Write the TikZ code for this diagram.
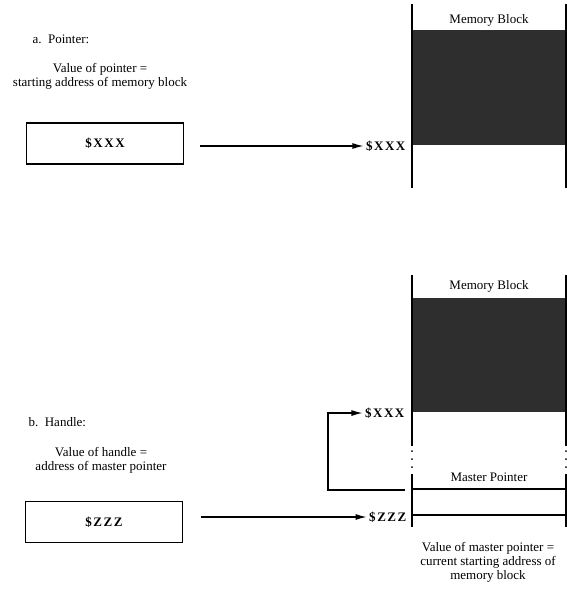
\documentclass[tikz,border=0pt]{standalone}
\usepackage{fontspec}
\setmainfont{Liberation Serif}
\newfontfamily\addrfont[LetterSpace=12]{Liberation Serif}
\usetikzlibrary{positioning, arrows.meta}
\newcommand{\ptrarrow}{-{Latex[length=11pt,width=6pt]}}
\tikzset{
    txt/.style={font=\fontsize{13}{14}\selectfont, inner sep=1pt},
    addr/.style={font=\addrfont\bfseries\fontsize{13}{14}\selectfont, inner sep=2pt},
    addrbox/.style={addr, draw, line width=1.4pt, minimum width=157pt, minimum height=41pt},
    colline/.style={line width=1.1pt},
    blockfill/.style={fill=black!82}
}

\begin{document}
\begin{tikzpicture}[x=1pt, y=-1pt, line width=1.2pt]
    \useasboundingbox (0,0) rectangle (567,592);

    % a. pointer
    \node[txt, anchor=west] (alabel) at (31,39) {a.\ \ Pointer:};
    \node[txt, align=center] (avalue) at (100,76) {Value of pointer =\\starting address of memory block};
    \node[addrbox] (ptrbox) at (105,143.5) {\$XXX};
    \node[addr, anchor=east] (axxx) at (408,146) {\$XXX};
    \draw[\ptrarrow] ([xshift=16pt]ptrbox.east |- axxx.west) -- (axxx.west);

    \fill[blockfill] (412,30) rectangle (566,145);
    \draw[colline] (412,4) -- (412,188) (566,4) -- (566,188);
    \node[txt] (ablock) at (489,20) {Memory Block};

    % b. handle
    \node[txt, anchor=west] (blabel) at (27,422) {b.\ \ Handle:};
    \node[txt, align=center] (bvalue) at (101,460) {Value of handle =\\address of master pointer};
    \node[addrbox] (hndbox) at (104,522) {\$ZZZ};
    \node[addr, anchor=east] (bzzz) at (409,517) {\$ZZZ};
    \draw[\ptrarrow] ([xshift=18pt]hndbox.east |- bzzz.west) -- (bzzz.west);

    \fill[blockfill] (412,298) rectangle (566,412);
    \draw[colline] (412,275) -- (412,446) (412,474) -- (412,527)
                   (566,275) -- (566,446) (566,474) -- (566,527);
    \foreach \y in {451,459,467}
        \fill (412,\y) circle (1) (566,\y) circle (1);
    \node[txt] (bblock) at (489,286) {Memory Block};
    \node[txt] (mpointer) at (489,477) {Master Pointer};
    \draw[colline] (412,489) -- (566,489) (412,515) -- (566,515);

    \node[addr, anchor=east] (bxxx) at (407,413) {\$XXX};
    \coordinate (mpstart) at (405,490);
    \draw[\ptrarrow] (mpstart) -- ++(-77,0) |- (bxxx.west);

    \node[txt, align=center] (mpvalue) at (488,562) {Value of master pointer =\\current starting address of\\memory block};
\end{tikzpicture}
\end{document}
